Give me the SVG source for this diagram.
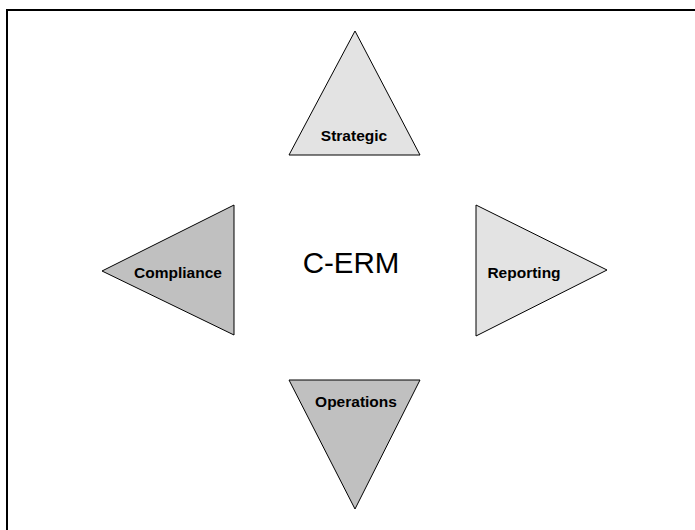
<svg xmlns="http://www.w3.org/2000/svg" width="695" height="530" viewBox="0 0 695 530">
<style>
.tri{stroke:#000;stroke-width:1}
.light{fill:#e3e3e3}
.dark{fill:#c0c0c0}
.lbl{font-family:"Liberation Sans",Arial,sans-serif;font-weight:bold;font-size:15.5px;fill:#000;text-anchor:middle}
</style>
<rect x="0" y="0" width="695" height="530" fill="#fff"/>
<rect x="7" y="10" width="700" height="540" fill="none" stroke="#000" stroke-width="2"/>
<g id="center"><text x="351" y="273" font-family="Liberation Sans,Arial,sans-serif" font-size="29.5" text-anchor="middle" fill="#000">C-ERM</text></g>
<g id="strategic"><polygon class="tri light" points="355,31 420,155 289,155"/><text class="lbl" x="354" y="141">Strategic</text></g>
<g id="compliance"><polygon class="tri dark" points="102,271 234,205 234,335"/><text class="lbl" x="178" y="278">Compliance</text></g>
<g id="reporting"><polygon class="tri light" points="476,205 607,270 476,336"/><text class="lbl" x="524" y="278">Reporting</text></g>
<g id="operations"><polygon class="tri dark" points="289,380 420,380 355,509"/><text class="lbl" x="356" y="407">Operations</text></g>
<g id="connectors"></g>
</svg>
